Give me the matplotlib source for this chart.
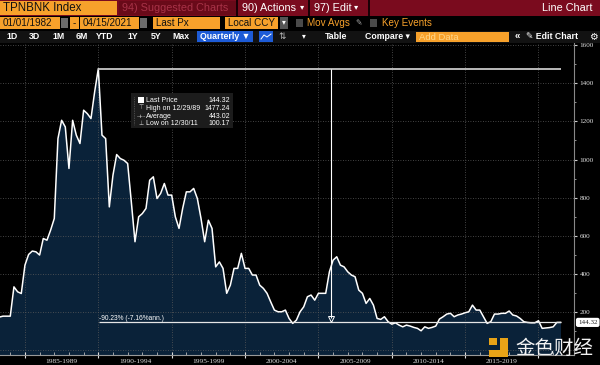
import numpy as np
import pandas as pd
import matplotlib
matplotlib.use('Agg')
import matplotlib.pyplot as plt
import matplotlib.transforms as mtransforms
from matplotlib.patches import Rectangle
from matplotlib.lines import Line2D

# quarterly last price, TPNBNK Index, 1982Q1 .. 2021Q2
prices = [
    150, 155, 160, 165,
    172, 177, 177, 177,
    331, 305, 296, 445,
    501, 519, 515, 498,
    585, 576, 629, 690,
    1110, 1206, 1171, 953,
    1206, 1128, 1084, 1259,
    1241, 1215, 1355, 1477.24,
    1128, 1110, 751, 918,
    1026, 1005, 996, 979,
    777, 568, 699, 716,
    743, 891, 909, 795,
    822, 874, 813, 813,
    699, 638, 743, 830,
    830, 848, 795, 690,
    568, 681, 638, 436,
    462, 428, 297, 340,
    428, 428, 507, 428,
    428, 393, 393, 340,
    323, 297, 252, 209,
    200, 200, 209, 165,
    139, 156, 200, 226,
    279, 288, 261, 297,
    297, 297, 410, 471,
    489, 445, 436, 410,
    393, 384, 314, 297,
    244, 270, 235, 165,
    160, 174, 148, 135,
    142, 130, 121, 130,
    125, 118, 113, 100.17,
    121, 113, 118, 125,
    162, 174, 188, 192,
    174, 183, 188, 195,
    200, 235, 209, 209,
    174, 139, 148, 188,
    188, 192, 192, 204,
    183, 178, 165, 148,
    144, 142, 142, 153,
    113, 115, 117, 121,
    144, 144.32,
]
start_quarter = '1982Q1'

period_labels = ['1985-1989', '1990-1994', '1995-1999', '2000-2004',
                 '2005-2009', '2010-2014', '2015-2019']
period_mids = [1987.5, 1992.5, 1997.5, 2002.5, 2007.5, 2012.5, 2017.5]

high_value = 1477.24
last_value = 144.32
legend_names = ['Last Price', 'High on 12/29/89', 'Average', 'Low on 12/30/11']
legend_values = ['144.32', '1477.24', '443.02', '100.17']
change_text = '-90.23% (-7.16%ann.)'

W, H = 600, 365
ORANGE = '#f7a12b'
SANS = ['Liberation Sans', 'DejaVu Sans']

quarters = pd.period_range(start_quarter, periods=len(prices), freq='Q')
t = np.asarray(quarters.year + quarters.quarter / 4, dtype=float)
prices = np.array(prices, dtype=float)

fig = plt.figure(figsize=(6, 3.65), dpi=100, facecolor='black')


def px_box(x0, y0, x1, y1, color, z=2):
    fig.patches.append(Rectangle((x0 / W, 1 - y1 / H), (x1 - x0) / W, (y1 - y0) / H,
                                 transform=fig.transFigure, facecolor=color,
                                 edgecolor='none', zorder=z))


def px_text(x, y, s, size, color, ha='left', weight='normal', family=None):
    fig.text(x / W, 1 - y / H, s, fontsize=size, color=color, ha=ha, va='center',
             fontweight=weight, family=family or SANS, zorder=6)


# ---- chart ----
ax = fig.add_axes([0, 1 - 355 / H, 574 / W, (355 - 43) / H])
ax.set_facecolor('black')
ax.fill_between(t, prices, -40, color='#0a2239', lw=0, zorder=1)
ax.plot(t, prices, color='white', lw=1.1, zorder=3)
ax.set_xlim(1983.3, 2022.42)
ax.set_ylim(-27, 1612)

ax.set_xticks(range(1985, 2021, 5))
ax.set_xticks(range(1984, 2022), minor=True)
ax.set_xticklabels([])
ax.set_yticks(range(0, 1601, 200))
ax.set_yticks(range(0, 1601, 100), minor=True)
ax.yaxis.tick_right()
ax.set_yticklabels([''] + [str(v) for v in range(200, 1601, 200)],
                   fontfamily='Liberation Serif', fontsize=5.2)
ax.grid(True, which='major', color='#5a5a5a', ls=(0, (1, 2)), lw=0.6, zorder=2)
ax.tick_params(axis='y', which='major', length=2.5, color='#cccccc',
               labelcolor='#dddddd', pad=1.5)
ax.tick_params(axis='y', which='minor', length=1.5, color='#aaaaaa')
ax.tick_params(axis='x', which='major', length=5, direction='inout', color='#dddddd')
ax.tick_params(axis='x', which='minor', length=2, direction='in', color='#bbbbbb')
for side in ['top', 'left']:
    ax.spines[side].set_visible(False)
ax.spines['right'].set_color('#888888')
ax.spines['right'].set_linewidth(0.8)
ax.spines['bottom'].set_color('#999999')
ax.spines['bottom'].set_linewidth(0.8)

trans_x = mtransforms.blended_transform_factory(ax.transData, ax.transAxes)
for s, m in zip(period_labels, period_mids):
    ax.text(m, -0.0215, s, transform=trans_x, ha='center', va='center',
            fontsize=5.3, color='#dddddd', family='Liberation Serif', clip_on=False)

# high line, last price line and measure arrow
ax.hlines(high_value, 1990.0, t[-1] + 0.05, color='#c8c8c8', lw=1.3, zorder=4)
ax.hlines(last_value, 1990.05, t[-1] + 0.05, color='#e6e6e6', lw=0.9, zorder=4)
ax.vlines(2005.86, 165, high_value, color='white', lw=0.8, zorder=4)
ax.plot(2005.86, 163, marker='v', mfc='none', mec='white', ms=4.5, mew=0.7, zorder=4)
ax.text(1990.05, 166, change_text, fontsize=4.8, color='white', va='center',
        family=SANS, zorder=5)

trans_y = mtransforms.blended_transform_factory(ax.transAxes, ax.transData)
ax.text(1.0 + 4 / 574, last_value, '144.32', transform=trans_y, fontsize=5,
        color='#222222', va='center', ha='left', family='Liberation Serif',
        bbox=dict(boxstyle='round,pad=0.3', fc='white', ec='none'), clip_on=False)

# ---- legend box ----
px_box(131, 93, 233, 128, '#1c1c1c', z=3)
px_box(138, 97, 144, 103, 'white', z=4)
fig.lines.append(Line2D([134 / W, 134 / W], [1 - 97 / H, 1 - 125 / H],
                        transform=fig.transFigure, color='#777777', lw=0.5,
                        ls=(0, (1, 1.5)), zorder=4))
rows_y = [100, 108, 116, 123]
glyphs = ['', '\u22a4', '-+-', '\u22a5']
for y, g, n, v in zip(rows_y, glyphs, legend_names, legend_values):
    if g:
        px_text(141, y, g, 4.2, '#cccccc', ha='center', family=['DejaVu Sans'])
    px_text(146, y, n, 5, 'white')
    px_text(230, y, v, 5, 'white', ha='right')

# ---- toolbar row 1 ----
px_box(0, 0, 600, 15.5, '#7a0b1e')
px_box(0, 1, 117, 15, ORANGE)
px_text(3, 8, 'TPNBNK Index', 8.3, '#111111')
px_box(119, 1, 236, 15, '#690a19')
px_text(122, 8, '94) Suggested Charts', 7.8, '#a83348')
px_box(236, 0, 238, 15.5, '#1a0005')
px_text(242, 8, '90) Actions', 7.8, 'white')
px_text(300, 8, '\u25be', 6, 'white')
px_box(308, 0, 310, 15.5, '#1a0005')
px_text(314, 8, '97) Edit', 7.8, 'white')
px_text(354, 8, '\u25be', 6, 'white')
px_box(368, 0, 370, 15.5, '#1a0005')
px_text(592, 8, 'Line Chart', 7.8, 'white', ha='right')

# ---- toolbar row 2 ----
px_box(0, 17, 60, 29, ORANGE)
px_text(2.5, 23, '01/01/1982', 7.1, '#111111')
px_box(61, 18, 68, 28, '#6b6b6b')
px_box(70, 17, 79, 29, ORANGE)
px_text(74.5, 23, '-', 7.1, '#111111', ha='center')
px_box(80, 17, 139, 29, ORANGE)
px_text(82.5, 23, '04/15/2021', 7.1, '#111111')
px_box(140, 18, 147, 28, '#6b6b6b')
px_box(153, 17, 220, 29, ORANGE)
px_text(156, 23, 'Last Px', 7.1, '#111111')
px_box(225, 17, 278, 29, ORANGE)
px_text(227.5, 23, 'Local CCY', 7.1, '#111111')
px_box(280, 17, 288, 29, '#555555')
px_text(284, 23, '\u25be', 5.5, 'white', ha='center')
px_box(296, 19, 303, 27, '#4a4a4a')
px_text(307, 23, 'Mov Avgs', 7.1, ORANGE)
px_text(355, 23, '\u270e', 5.5, '#aaaaaa', family=['DejaVu Sans'])
px_box(370, 19, 377, 27, '#4a4a4a')
px_text(382, 23, 'Key Events', 7.1, ORANGE)

# ---- toolbar row 3 ----
px_box(0, 31, 600, 43, '#121212')
for s, cx in zip(['1D', '3D', '1M', '6M', 'YTD', '1Y', '5Y', 'Max'],
                 [12, 34, 59, 82, 105, 133, 156, 181]):
    px_text(cx, 36.5, s, 6.3, 'white', ha='center', weight='bold')
px_box(197, 31, 253, 42, '#1d5bd6')
px_text(200, 36.5, 'Quarterly \u25bc', 6.3, 'white', weight='bold')
px_box(259, 31, 273, 42, '#1d5bd6')
fig.lines.append(Line2D(np.array([261, 264, 267, 271]) / W,
                        1 - np.array([39, 35, 37, 34]) / H,
                        transform=fig.transFigure, color='white', lw=0.7, zorder=6))
px_text(282, 36.5, '\u21c5', 6.3, '#bbbbbb', ha='center', family=['DejaVu Sans'])
px_text(304, 36.5, '\u25be', 5.5, 'white', ha='center')
px_text(336, 36.5, 'Table', 6.3, 'white', ha='center', weight='bold')
px_text(365, 36.5, 'Compare \u25be', 6.3, 'white', weight='bold')
px_box(416, 32, 509, 42, ORANGE)
px_text(419, 37, 'Add Data', 6.8, '#ffd68a')
px_text(517, 36.5, '\u00ab', 7, 'white', ha='center', weight='bold')
px_text(526, 36.5, '\u270e Edit Chart', 6.3, 'white', weight='bold')
px_text(593, 36.5, '\u2699', 7, 'white', ha='center', family=['DejaVu Sans'])

# ---- watermark ----
GOLD = '#e8a317'
px_box(489, 338, 497, 345, GOLD, z=5)
px_box(500, 338, 508, 357, GOLD, z=5)
px_box(489, 350, 508, 357, GOLD, z=5)
px_text(554, 348.5, '金色财经', 14, '#f2f2f2', ha='center',
        family=['Noto Sans CJK SC', 'DejaVu Sans'])

fig.savefig('out.png', dpi=100, facecolor='black')
